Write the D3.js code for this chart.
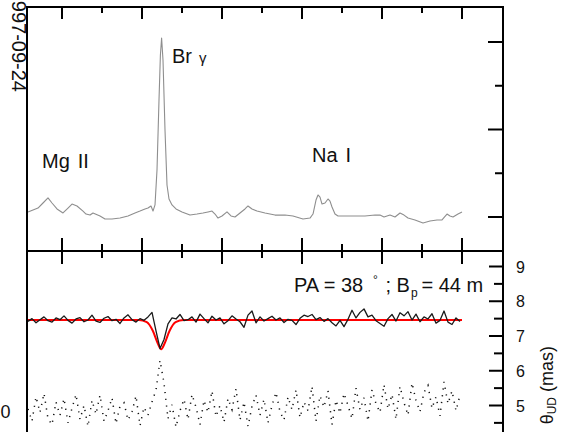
<!DOCTYPE html>
<html>
<head>
<meta charset="utf-8">
<script src="https://cdn.jsdelivr.net/npm/d3@7"></script>
<style>
  html, body { margin: 0; padding: 0; background: #fff; }
  svg { display: block; font-family: "Liberation Sans", Arial, sans-serif; }
</style>
</head>
<body>
<svg id="chart" width="568" height="432"></svg>
<script>
// Wavelength (micron) grid shared by both panels
const wlTicksMajor = [2.14, 2.16, 2.18, 2.20, 2.22, 2.24];
const wlTicksMinor = [2.15, 2.17, 2.19, 2.21, 2.23];

// Normalised flux ticks of the spectrum panel
const fluxTicksMajor = [1.0, 1.5, 2.0];
const fluxTicksMinor = [1.25, 1.75];

// Angular diameter ticks (mas)
const diamTicksMajor = [5, 6, 7, 8, 9];
const diamTicksMinor = [4.5, 5.5, 6.5, 7.5, 8.5];
const diamTickLabels = ["5", "6", "7", "8", "9"];

// Spectrum: wavelength and normalised flux
const specWl = [2.1315, 2.13275, 2.134, 2.13525, 2.1365, 2.1375, 2.13875, 2.14025, 2.1415, 2.1425,
  2.14375, 2.14525, 2.146, 2.147, 2.14775, 2.1495, 2.15075, 2.1525, 2.1545, 2.1565,
  2.15825, 2.1595, 2.16075, 2.1615, 2.16225, 2.16275, 2.16325, 2.16375, 2.16425, 2.1646,
  2.1649, 2.16525, 2.16575, 2.16625, 2.16675, 2.1675, 2.1685, 2.17, 2.172, 2.17375,
  2.17525, 2.1765, 2.1775, 2.17825, 2.179, 2.18, 2.18125, 2.18225, 2.18325, 2.1845,
  2.18575, 2.1865, 2.1875, 2.18875, 2.19075, 2.19325, 2.19575, 2.19775, 2.20025, 2.202,
  2.20275, 2.2035, 2.204, 2.2045, 2.205, 2.20575, 2.2065, 2.207, 2.2075, 2.20825,
  2.209, 2.21075, 2.21325, 2.21575, 2.21825, 2.2195, 2.2205, 2.222, 2.22325, 2.2245,
  2.2255, 2.2265, 2.22825, 2.23025, 2.232, 2.23375, 2.235, 2.23625, 2.237, 2.23775,
  2.239, 2.24];
const specFlux = [1.029, 1.040, 1.051, 1.080, 1.109, 1.080, 1.046, 1.023, 1.051, 1.074,
  1.063, 1.034, 1.017, 1.011, 1.023, 1.006, 0.989, 0.989, 0.994, 1.006,
  1.023, 1.034, 1.046, 1.051, 1.063, 1.034, 1.069, 1.269, 1.669, 1.926,
  2.023, 1.897, 1.497, 1.183, 1.103, 1.069, 1.046, 1.029, 1.011, 1.017,
  1.023, 1.029, 1.034, 1.017, 0.994, 1.006, 1.029, 1.006, 1.000, 1.023,
  1.046, 1.063, 1.046, 1.034, 1.023, 1.011, 1.011, 1.006, 0.989, 0.994,
  1.017, 1.097, 1.126, 1.114, 1.074, 1.080, 1.103, 1.091, 1.057, 1.017,
  1.006, 1.006, 1.006, 1.006, 1.011, 1.011, 1.000, 1.011, 1.000, 1.023,
  1.011, 0.994, 0.983, 0.966, 0.977, 0.983, 0.983, 1.017, 1.006, 1.000,
  1.017, 1.029];

// Differential diameter channels: start wavelength and step
const chanStart = 2.1315;
const chanStep = 0.001;

// Measured uniform-disk diameter per channel (mas), solid black curve
const diamMeasured = [
  7.42, 7.50, 7.38, 7.47, 7.55, 7.44, 7.40, 7.52, 7.47, 7.58,
  7.45, 7.37, 7.49, 7.53, 7.41, 7.46, 7.60, 7.43, 7.39, 7.51,
  7.56, 7.44, 7.48, 7.36, 7.52, 7.61, 7.47, 7.40, 7.50, 7.45,
  7.55, 7.68, 7.15, 6.64, 6.90, 7.35, 7.52, 7.49, 7.62, 7.44,
  7.47, 7.55, 7.40, 7.63, 7.50, 7.38, 7.57, 7.46, 7.52, 7.35,
  7.44, 7.58, 7.49, 7.41, 7.25, 7.60, 7.72, 7.38, 7.55, 7.43,
  7.50, 7.57, 7.46, 7.52, 7.39, 7.48, 7.45, 7.33, 7.51, 7.60,
  7.56, 7.62, 7.47, 7.53, 7.42, 7.50, 7.38, 7.29, 7.45, 7.27,
  7.48, 7.74, 7.52, 7.68, 7.78, 7.55, 7.60, 7.44, 7.36, 7.28,
  7.50, 7.62, 7.43, 7.67, 7.58, 7.70, 7.46, 7.63, 7.41, 7.55,
  7.49, 7.64, 7.37, 7.45, 7.72, 7.40, 7.33, 7.52, 7.42];

// Second diameter estimate per channel (mas), dotted curve
const diamSecond = [
  4.90, 4.55, 5.25, 4.80, 5.35, 4.62, 4.45, 5.10, 4.72, 5.20,
  4.50, 4.92, 5.32, 4.60, 5.00, 4.40, 5.15, 4.75, 5.30, 4.55,
  4.85, 5.22, 4.48, 4.98, 5.08, 4.58, 4.82, 5.28, 4.42, 4.95,
  4.72, 5.10, 5.45, 6.30, 5.65, 4.62, 5.02, 4.38, 4.85, 5.18,
  4.60, 5.32, 4.95, 4.45, 5.15, 4.80, 5.42, 4.68, 5.00, 4.52,
  5.20, 4.88, 5.48, 4.58, 5.10, 4.40, 4.98, 5.30, 4.72, 5.18,
  4.50, 5.00, 5.38, 4.82, 4.58, 5.25, 4.88, 5.45, 4.65, 5.10,
  4.85, 5.55, 4.55, 5.28, 4.95, 5.42, 4.45, 5.15, 4.78, 5.35,
  5.00, 4.62, 5.50, 4.88, 5.22, 4.55, 5.45, 5.05, 4.80, 5.60,
  4.90, 5.32, 4.60, 5.55, 5.08, 4.72, 5.65, 5.15, 4.82, 5.38,
  5.58, 4.92, 5.25, 4.70, 5.68, 5.05, 5.42, 4.85, 5.30];

// Model diameter (red): wavelength nodes and values
const modelWl = [2.1315, 2.1592, 2.1612, 2.1627, 2.1639, 2.1648, 2.1657, 2.1669, 2.1684, 2.1704, 2.2400];
const modelDiam = [7.46, 7.46, 7.40, 7.15, 6.80, 6.62, 6.80, 7.15, 7.40, 7.46, 7.46];

// Annotations
const lineLabels = [
  { words: ["Mg", "II"], wl: 2.1350, flux: 1.280 },
  { words: ["Na", "I"], wl: 2.2025, flux: 1.314 }
];
const dateLabel = "1997-09-24";
const baselineInfo = { pa: "38", bp: "44" };

(function draw() {
  const W = 568, H = 432;
  const frameL = 27, frameR = 503, frameT = 7, frameMid = 251;
  const x = d3.scaleLinear().domain([2.14, 2.24]).range([62, 462]);
  const yFlux = d3.scaleLinear().domain([1.0, 2.0]).range([217, 42]);
  const yDiam = d3.scaleLinear().domain([5, 9]).range([405.5, 266.5]);

  const svg = d3.select("#chart");
  svg.append("rect").attr("width", W).attr("height", H).attr("fill", "#fff");

  // spectrum
  svg.append("path")
    .datum(specWl.map((w, i) => [w, specFlux[i]]))
    .attr("fill", "none")
    .attr("stroke", "#8e8e8e")
    .attr("stroke-width", 1.1)
    .attr("stroke-linejoin", "round")
    .attr("d", d3.line().x(d => x(d[0])).y(d => yFlux(d[1])));

  // diameter curves
  const chanWl = i => chanStart + chanStep * i;

  svg.append("path")
    .datum(diamSecond.map((v, i) => [chanWl(i), v]))
    .attr("fill", "none")
    .attr("stroke", "#111")
    .attr("stroke-width", 1.5)
    .attr("stroke-dasharray", "1.2,5.6")
    .attr("d", d3.line().x(d => x(d[0])).y(d => yDiam(d[1])));

  svg.append("path")
    .datum(modelWl.map((w, i) => [w, modelDiam[i]]))
    .attr("fill", "none")
    .attr("stroke", "#ff0000")
    .attr("stroke-width", 2)
    .attr("d", d3.line().curve(d3.curveMonotoneX).x(d => x(d[0])).y(d => yDiam(d[1])));

  svg.append("path")
    .datum(diamMeasured.map((v, i) => [chanWl(i), v]))
    .attr("fill", "none")
    .attr("stroke", "#1a1a1a")
    .attr("stroke-width", 1.3)
    .attr("stroke-linejoin", "round")
    .attr("d", d3.line().x(d => x(d[0])).y(d => yDiam(d[1])));

  // frame
  const frame = svg.append("g").attr("stroke", "#000").attr("stroke-width", 2).attr("stroke-linecap", "square");
  frame.append("line").attr("x1", frameL).attr("x2", frameR).attr("y1", frameT).attr("y2", frameT);
  frame.append("line").attr("x1", frameL).attr("x2", frameR).attr("y1", frameMid).attr("y2", frameMid);
  frame.append("line").attr("x1", frameL).attr("x2", frameL).attr("y1", frameT).attr("y2", H + 2);
  frame.append("line").attr("x1", frameR).attr("x2", frameR).attr("y1", frameT).attr("y2", H + 2);

  const ticks = svg.append("g").attr("stroke", "#000").attr("stroke-width", 2);
  const vTick = (xv, y1, y2) => ticks.append("line").attr("x1", xv).attr("x2", xv).attr("y1", y1).attr("y2", y2);
  const hTick = (yv, x1, x2) => ticks.append("line").attr("x1", x1).attr("x2", x2).attr("y1", yv).attr("y2", yv);
  // wavelength ticks on the top edge (inward)
  wlTicksMajor.forEach(w => vTick(x(w), frameT, frameT + 12));
  wlTicksMinor.forEach(w => vTick(x(w), frameT, frameT + 6));
  // wavelength ticks crossing the shared edge
  wlTicksMajor.forEach(w => vTick(x(w), frameMid - 13, frameMid + 13));
  wlTicksMinor.forEach(w => vTick(x(w), frameMid - 7, frameMid + 7));
  // flux ticks on right edge (inward)
  fluxTicksMajor.forEach(f => hTick(yFlux(f), frameR, frameR - 15));
  fluxTicksMinor.forEach(f => hTick(yFlux(f), frameR, frameR - 8));
  // diameter ticks on right edge (inward)
  diamTicksMajor.forEach(v => hTick(yDiam(v), frameR, frameR - 14));
  diamTicksMinor.forEach(v => hTick(yDiam(v), frameR, frameR - 9));

  // diameter tick labels
  svg.append("g").selectAll("text").data(diamTicksMajor).join("text")
    .attr("x", 516).attr("y", d => yDiam(d) + 6)
    .attr("font-size", 16).attr("fill", "#111")
    .text((d, i) => diamTickLabels[i]);

  // diameter axis title
  const yt = svg.append("text")
    .attr("transform", "translate(553,346) rotate(-90)")
    .attr("text-anchor", "end")
    .attr("font-size", 18).attr("fill", "#111");
  yt.append("tspan").text("θ");
  yt.append("tspan").attr("font-size", 12).attr("dy", 3).text("UD");
  yt.append("tspan").attr("dy", -3).text(" (mas)");

  // spectral line labels
  const ll = svg.append("g").selectAll("text").data(lineLabels).join("text")
    .attr("x", d => x(d.wl)).attr("y", d => yFlux(d.flux))
    .attr("font-size", 20).attr("fill", "#111");
  ll.append("tspan").text(d => d.words[0]);
  ll.append("tspan").attr("dx", 8).text(d => d.words[1]);

  const br = svg.append("text").attr("x", 172).attr("y", 63).attr("font-size", 20).attr("fill", "#111");
  br.append("tspan").text("Br");
  br.append("tspan").attr("x", 199).attr("font-size", 15).text("γ");

  // baseline annotation, pieces placed individually
  const pa = svg.append("text").attr("y", 292).attr("font-size", 20).attr("fill", "#111");
  pa.append("tspan").attr("x", 294).text("PA = " + baselineInfo.pa);
  pa.append("tspan").attr("x", 373).attr("y", 284).attr("font-size", 12).text("°");
  pa.append("tspan").attr("x", 385.5).attr("y", 292).text(";");
  pa.append("tspan").attr("x", 396.5).text("B");
  pa.append("tspan").attr("x", 411).attr("y", 297).attr("font-size", 12).text("p");
  pa.append("tspan").attr("x", 421.5).attr("y", 292).text("= " + baselineInfo.bp + " m");

  svg.append("text")
    .attr("transform", "translate(12,92) rotate(90)")
    .attr("text-anchor", "end")
    .attr("font-size", 20).attr("fill", "#111")
    .text(dateLabel);

  svg.append("text")
    .attr("x", 10.5).attr("y", 418)
    .attr("text-anchor", "end")
    .attr("font-size", 18).attr("fill", "#111")
    .text("0");
})();
</script>
</body>
</html>
